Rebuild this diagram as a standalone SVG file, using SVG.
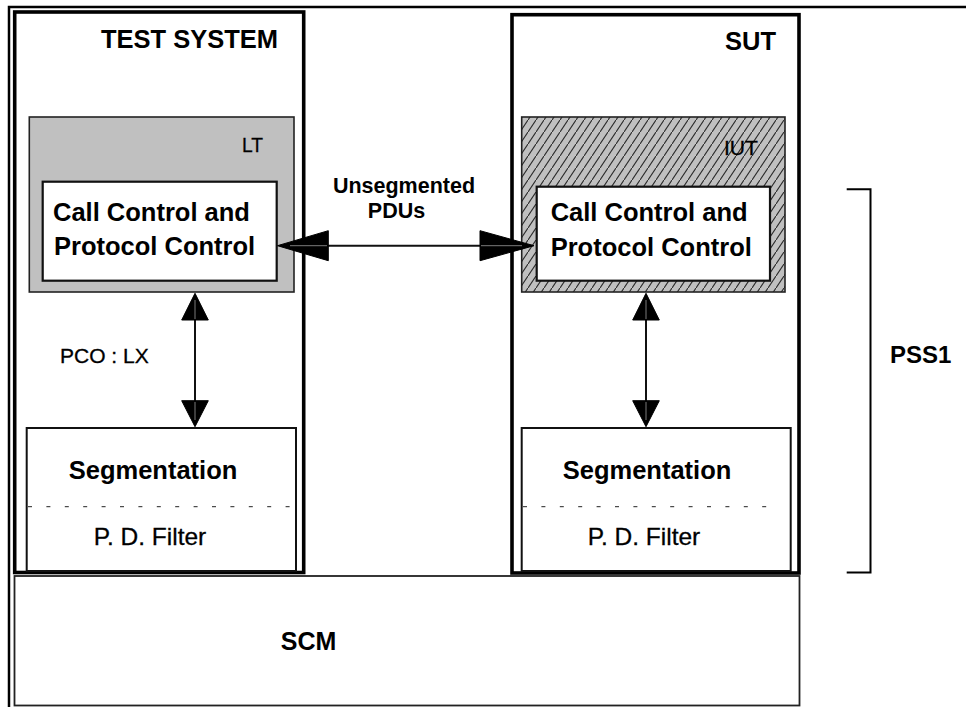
<svg xmlns="http://www.w3.org/2000/svg" width="966" height="707" viewBox="0 0 966 707">
  <defs>
    <pattern id="hatch" patternUnits="userSpaceOnUse" width="8" height="12">
      <rect width="8" height="12" fill="#c0c0c0"/>
      <line x1="-1" y1="13.5" x2="9" y2="-1.5" stroke="#2a2a2a" stroke-width="1.1"/>
    </pattern>
    <style>
      .frame { fill: none; stroke: #000; stroke-width: 2.5; }
      .system { fill: #fff; stroke: #000; stroke-width: 3.6; }
      .layer { fill: #fff; stroke: #111; stroke-width: 2; }
      .lt { fill: #c0c0c0; stroke: #222; stroke-width: 1.6; }
      .iut { fill: url(#hatch); stroke: #222; stroke-width: 1.6; }
      .inner { fill: #fff; stroke: #111; stroke-width: 2.2; }
      .scm { fill: #fff; stroke: #222; stroke-width: 1.8; }
      .dash { stroke: #222; stroke-width: 1; stroke-dasharray: 4 14.4; }
      .shaft { stroke: #111; stroke-width: 2; fill: none; }
      .head { fill: #000; stroke: #000; stroke-width: 1; stroke-linejoin: miter; }
      .headline { stroke: #999; stroke-width: 0.8; fill: none; }
      .bracket { fill: none; stroke: #000; stroke-width: 2; }
      text { font-family: "Liberation Sans", Arial, sans-serif; fill: #000; }
      .b { font-weight: bold; }
      .r { stroke: #000; stroke-width: 0.3; }
    </style>
  </defs>

  <!-- page frame -->
  <path class="frame" d="M966 7 H9 V707"/>

  <!-- SCM -->
  <g id="scm">
    <rect class="scm" x="14.5" y="576" width="785" height="129.5"/>
    <text class="b" x="308.5" y="650" font-size="25" text-anchor="middle">SCM</text>
  </g>

  <!-- test system -->
  <g id="test-system">
    <rect class="system" x="14.7" y="12" width="289" height="560.5"/>
    <text class="b" x="278" y="48" font-size="25.5" text-anchor="end">TEST SYSTEM</text>
  </g>

  <g id="lt">
    <rect class="lt" x="29.3" y="117" width="264.7" height="175"/>
    <text class="r" x="263" y="152" font-size="21" text-anchor="end" textLength="21" lengthAdjust="spacingAndGlyphs">LT</text>
  </g>

  <g id="lt-control">
    <rect class="inner" x="42.7" y="181.7" width="234" height="99"/>
    <text class="b" x="53" y="221" font-size="25.5">Call Control and</text>
    <text class="b" x="54" y="255" font-size="25.5">Protocol Control</text>
  </g>

  <g id="lt-segmentation">
    <rect class="layer" x="26.7" y="428" width="269.3" height="143"/>
    <line class="dash" x1="28" y1="506.7" x2="290" y2="506.7"/>
    <text class="b" x="153" y="479" font-size="25.5" text-anchor="middle">Segmentation</text>
    <text class="r" x="150" y="545" font-size="24.5" text-anchor="middle">P. D. Filter</text>
  </g>

  <!-- system under test -->
  <g id="sut">
    <rect class="system" x="512" y="14.7" width="287" height="558.3"/>
    <text class="b" x="776" y="50" font-size="25.5" text-anchor="end">SUT</text>
  </g>

  <g id="iut">
    <rect class="iut" x="521.7" y="117" width="263.3" height="175"/>
    <text class="r" x="758" y="155" font-size="21" text-anchor="end" textLength="34" lengthAdjust="spacingAndGlyphs">IUT</text>
  </g>

  <g id="iut-control">
    <rect class="inner" x="536.7" y="186.7" width="233.3" height="94"/>
    <text class="b" x="550.7" y="221" font-size="25.5">Call Control and</text>
    <text class="b" x="550.7" y="255.7" font-size="25.5">Protocol Control</text>
  </g>

  <g id="iut-segmentation">
    <rect class="layer" x="521.7" y="428" width="269" height="143"/>
    <line class="dash" x1="523" y1="506.7" x2="780" y2="506.7"/>
    <text class="b" x="647" y="479" font-size="25.5" text-anchor="middle">Segmentation</text>
    <text class="r" x="644" y="545" font-size="24.5" text-anchor="middle">P. D. Filter</text>
  </g>

  <!-- PSS1 span -->
  <g id="pss1">
    <path class="bracket" d="M846.7 189.3 H870.5 V572.5 H846.7"/>
    <text class="b" x="890" y="363" font-size="24">PSS1</text>
  </g>

  <!-- connectors -->
  <g id="connectors">
    <!-- unsegmented PDUs between the two call/protocol control entities -->
    <line class="shaft" x1="280" y1="245.7" x2="532" y2="245.7"/>
    <polygon class="head" points="277.5,245.7 328.3,230.7 328.3,260.7"/>
    <polygon class="head" points="534,245.7 480,230.7 480,260.7"/>
    <line class="headline" x1="290" y1="245.7" x2="327" y2="245.7"/>
    <line class="headline" x1="481" y1="245.7" x2="522" y2="245.7"/>
    <text class="b" x="404" y="192.7" font-size="21.5" text-anchor="middle">Unsegmented</text>
    <text class="b" x="396.5" y="217.7" font-size="21.5" text-anchor="middle">PDUs</text>

    <!-- PCO : LX -->
    <line class="shaft" x1="195" y1="295" x2="195" y2="425"/>
    <polygon class="head" points="195,293.3 181.7,320 208.3,320"/>
    <polygon class="head" points="195,426.7 181.7,400.7 208.3,400.7"/>
    <line class="headline" x1="195" y1="300" x2="195" y2="319"/>
    <line class="headline" x1="195" y1="402" x2="195" y2="420"/>
    <text class="r" x="60" y="363.3" font-size="21">PCO : LX</text>

    <!-- IUT upper tester side -->
    <line class="shaft" x1="646" y1="295" x2="646" y2="425"/>
    <polygon class="head" points="646,293.3 632.7,320 659.3,320"/>
    <polygon class="head" points="646,426.7 632.7,400.7 659.3,400.7"/>
    <line class="headline" x1="646" y1="300" x2="646" y2="319"/>
    <line class="headline" x1="646" y1="402" x2="646" y2="420"/>
  </g>
</svg>
